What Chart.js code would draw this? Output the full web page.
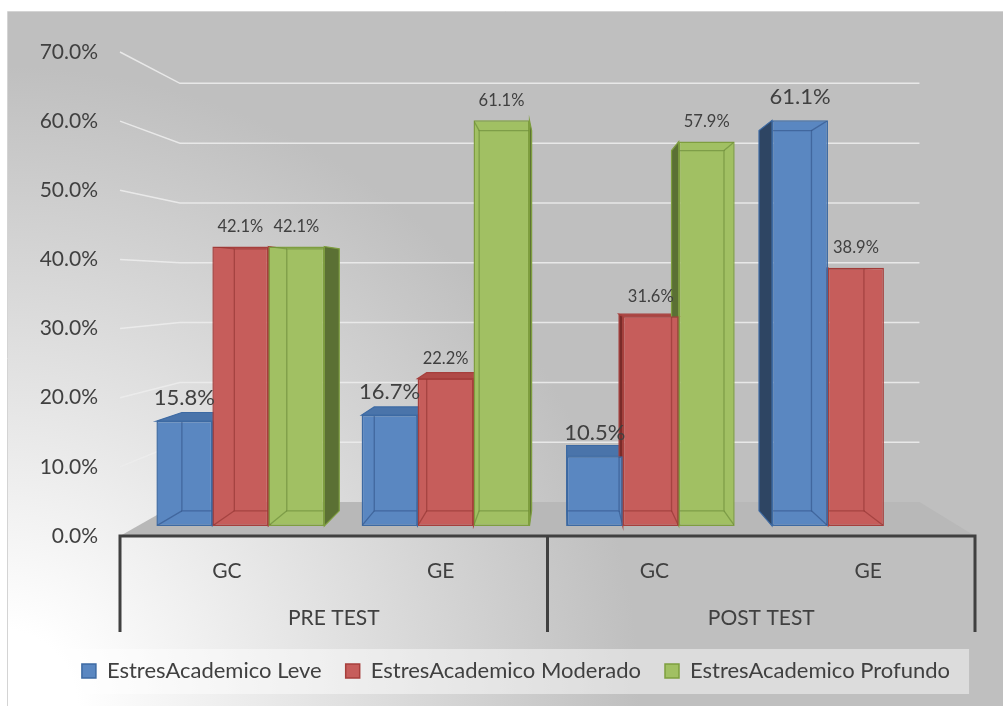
<!DOCTYPE html>
<html><head><meta charset="utf-8">
<script src="https://cdn.jsdelivr.net/npm/chart.js@4.4.1/dist/chart.umd.min.js"></script>
<style>html,body{margin:0;padding:0;background:#fff;}canvas{display:block;}</style>
</head><body>
<canvas id="c" width="1003" height="706"></canvas>
<script>
// ---- data ----
const GROUPS = ['PRE TEST', 'POST TEST'];
const CATEGORIES = ['GC', 'GE', 'GC', 'GE'];
const SERIES_NAMES = ['EstresAcademico Leve', 'EstresAcademico Moderado', 'EstresAcademico Profundo'];
const LEVE = [15.8, 16.7, 10.5, 61.1];
const MODERADO = [42.1, 22.2, 31.6, 38.9];
const PROFUNDO = [42.1, 61.1, 57.9, null];
const Y_TICKS = [0, 10, 20, 30, 40, 50, 60, 70];
const Y_MAX = 70;

// ---- style ----
const FONT = 'Lato, "Open Sans", sans-serif';
const TEXT = '#404040';
const VX = 0.519, VY = 0.48;          // vanishing point (fraction of plot area)
const K_WALL = 0.865, K_FRONT = 0.96, K_BACK = 0.90;
const PAL = [
  {fill:'#5a87c1', border:'#3d6aa3', side:'#2e4563', top:'#4a74aa', edge:'rgba(35,65,115,0.45)', label:22},
  {fill:'#c65d5b', border:'#a63f3c', side:'#7a2b29', top:'#b04a47', edge:'rgba(125,35,33,0.45)', label:16.5},
  {fill:'#a1c063', border:'#7e9e3f', side:'#5b7034', top:'#8dac50', edge:'rgba(85,115,40,0.45)', label:16.5}
];
const N = CATEGORIES.length;
const XB_MIN = -(N * VX * (1 - K_FRONT) / K_FRONT + 0.5);
const XB_MAX = XB_MIN + N / K_FRONT;
const YB_MIN = -(1 - VY) * (1 - K_FRONT) * Y_MAX / K_FRONT;
const YB_MAX = YB_MIN + Y_MAX / K_FRONT;

function geom(chart) {
  const a = chart.chartArea;
  return {a, vx: a.left + VX * (a.right - a.left), vy: a.top + VY * (a.bottom - a.top)};
}
function toward(g, x, y, k) { return [g.vx + k * (x - g.vx), g.vy + k * (y - g.vy)]; }
function poly(ctx, pts) { ctx.beginPath(); pts.forEach((p, i) => i ? ctx.lineTo(p[0], p[1]) : ctx.moveTo(p[0], p[1])); ctx.closePath(); }
function barBox(el) {
  const p = el.getProps(['x', 'y', 'base', 'width'], true);
  return {x1: p.x - p.width / 2, x2: p.x + p.width / 2, yt: p.y, yb: p.base, xc: p.x};
}

const scene = {
  id: 'scene',
  beforeDraw(chart) {
    const ctx = chart.ctx, W = chart.width, H = chart.height;
    ctx.save();
    ctx.fillStyle = '#ffffff'; ctx.fillRect(0, 0, W, H);
    const gr = ctx.createRadialGradient(0, H, 0, 0, H, 640);
    gr.addColorStop(0, '#ffffff'); gr.addColorStop(0.12, '#ffffff'); gr.addColorStop(1, '#bfbfbf');
    ctx.fillStyle = gr; ctx.fillRect(8, 11, W - 8, H - 11);
    ctx.strokeStyle = '#d4d4d4'; ctx.lineWidth = 1;
    ctx.beginPath(); ctx.moveTo(7.5, H); ctx.lineTo(7.5, 11.5); ctx.lineTo(W, 11.5); ctx.stroke();
    // legend background
    const lg = chart.legend;
    if (lg && lg.legendHitBoxes && lg.legendHitBoxes.length) {
      const hb = lg.legendHitBoxes[0];
      const last = lg.legendHitBoxes[lg.legendHitBoxes.length - 1];
      const cy = hb.top + hb.height / 2;
      ctx.fillStyle = 'rgba(255,255,255,0.45)';
      ctx.fillRect(hb.left - 28, cy - 22, last.left + last.width + 19 - (hb.left - 28), 45);
    }
    ctx.restore();
  },
  beforeDatasetsDraw(chart) {
    const ctx = chart.ctx, g = geom(chart), a = g.a, yl = chart.scales.yl;
    ctx.save();
    // back wall grid lines
    ctx.strokeStyle = 'rgba(236,236,236,0.9)'; ctx.lineWidth = 1.5;
    Y_TICKS.forEach(v => {
      if (v <= 0) return;
      const yf = yl.getPixelForValue(v);
      const [bl, by] = toward(g, a.left, yf, K_WALL);
      const [br] = toward(g, a.right, yf, K_WALL);
      ctx.beginPath(); ctx.moveTo(a.left, yf); ctx.lineTo(bl, by); ctx.lineTo(br, by); ctx.stroke();
    });
    // floor
    const [fl, fy] = toward(g, a.left, a.bottom, K_WALL);
    const [fr] = toward(g, a.right, a.bottom, K_WALL);
    poly(ctx, [[a.left, a.bottom], [fl, fy], [fr, fy], [a.right, a.bottom]]);
    ctx.fillStyle = '#b8b8b8'; ctx.fill();
    // side and top faces of bars
    const r = K_BACK / K_FRONT;
    chart.data.datasets.forEach((ds, di) => {
      const meta = chart.getDatasetMeta(di), pal = PAL[di];
      meta.data.forEach((el, i) => {
        if (ds.data[i].y == null) return;
        const b = barBox(el);
        const T1 = toward(g, b.x1, b.yt, r), T2 = toward(g, b.x2, b.yt, r);
        const B1 = toward(g, b.x1, b.yb, r), B2 = toward(g, b.x2, b.yb, r);
        ctx.lineWidth = 1.2; ctx.strokeStyle = pal.border;
        if (b.xc > g.vx) poly(ctx, [[b.x1, b.yt], T1, B1, [b.x1, b.yb]]);
        else poly(ctx, [[b.x2, b.yt], T2, B2, [b.x2, b.yb]]);
        ctx.fillStyle = pal.side; ctx.fill(); ctx.stroke();
        if (b.yt > g.vy) {
          poly(ctx, [[b.x1, b.yt], [b.x2, b.yt], T2, T1]);
          ctx.fillStyle = pal.top; ctx.fill(); ctx.stroke();
        }
      });
    });
    ctx.restore();
  },
  afterDatasetDraw(chart, args) {
    const ctx = chart.ctx, g = geom(chart), di = args.index, pal = PAL[di];
    const ds = chart.data.datasets[di], r = K_BACK / K_FRONT;
    ctx.save();
    args.meta.data.forEach((el, i) => {
      if (ds.data[i].y == null) return;
      const b = barBox(el);
      const T1 = toward(g, b.x1, b.yt, r), T2 = toward(g, b.x2, b.yt, r);
      const B1 = toward(g, b.x1, b.yb, r), B2 = toward(g, b.x2, b.yb, r);
      ctx.save();
      ctx.beginPath(); ctx.rect(b.x1 + 1, b.yt + 1, b.x2 - b.x1 - 2, b.yb - b.yt - 2); ctx.clip();
      ctx.strokeStyle = pal.edge; ctx.lineWidth = 1.3;
      poly(ctx, [T1, T2, B2, B1]); ctx.stroke();
      ctx.beginPath();
      [[[b.x1, b.yt], T1], [[b.x2, b.yt], T2], [[b.x1, b.yb], B1], [[b.x2, b.yb], B2]].forEach(([p, q]) => { ctx.moveTo(p[0], p[1]); ctx.lineTo(q[0], q[1]); });
      ctx.stroke();
      ctx.restore();
    });
    ctx.restore();
  },
  afterDatasetsDraw(chart) {
    const ctx = chart.ctx;
    ctx.save();
    ctx.fillStyle = TEXT; ctx.textAlign = 'center'; ctx.textBaseline = 'middle';
    chart.data.datasets.forEach((ds, di) => {
      const meta = chart.getDatasetMeta(di), pal = PAL[di];
      ctx.font = pal.label + 'px ' + FONT;
      meta.data.forEach((el, i) => {
        const v = ds.data[i].y;
        if (v == null) return;
        const off = pal.label > 20 ? 23 : 20;
        ctx.fillText(v.toFixed(1) + '%', el.x, el.y - off);
      });
    });
    ctx.restore();
  },
  afterDraw(chart) {
    const ctx = chart.ctx, a = chart.chartArea, xg = chart.scales.xg;
    ctx.save();
    ctx.strokeStyle = '#404040'; ctx.lineWidth = 3; ctx.lineCap = 'butt';
    const mid = (xg.getPixelForValue(0) + xg.getPixelForValue(1)) / 2;
    const bottom = xg.bottom - 4;
    ctx.beginPath();
    ctx.moveTo(a.left - 1.5, a.bottom); ctx.lineTo(a.right + 1.5, a.bottom);
    [a.left, mid, a.right].forEach(x => { ctx.moveTo(x, a.bottom); ctx.lineTo(x, bottom); });
    ctx.stroke();
    ctx.restore();
  }
};

const seriesData = [LEVE, MODERADO, PROFUNDO];
const datasets = seriesData.map((vals, di) => ({
  label: SERIES_NAMES[di],
  data: vals.map((v, i) => ({x: i, y: v})),
  backgroundColor: PAL[di].fill,
  borderColor: PAL[di].border,
  borderWidth: 1.5,
  borderSkipped: false,
  xAxisID: 'xb',
  yAxisID: 'y',
  categoryPercentage: 0.818,
  barPercentage: 1
}));

new Chart(document.getElementById('c'), {
  type: 'bar',
  data: {datasets},
  options: {
    responsive: false,
    animation: false,
    devicePixelRatio: 1,
    layout: {padding: {left: 30, right: 1, top: 52, bottom: 14}},
    plugins: {
      tooltip: {enabled: false},
      legend: {
        position: 'bottom',
        labels: {boxWidth: 14, boxHeight: 14, padding: 24, color: TEXT, font: {family: FONT, size: 22}}
      }
    },
    scales: {
      xb: {
        type: 'linear', display: false, min: XB_MIN, max: XB_MAX, offset: false,
        grid: {offset: false},
        afterBuildTicks: s => { s.ticks = CATEGORIES.map((_, i) => ({value: i})); }
      },
      x: {
        type: 'category', labels: CATEGORIES, position: 'bottom', weight: 1, offset: true,
        grid: {display: false, drawTicks: false}, border: {display: false},
        ticks: {padding: 23, color: TEXT, font: {family: FONT, size: 21}, autoSkip: false, maxRotation: 0},
        afterFit: s => { s.height = 66; }
      },
      xg: {
        type: 'category', labels: GROUPS, position: 'bottom', weight: 2, offset: true,
        grid: {display: false, drawTicks: false}, border: {display: false},
        ticks: {padding: 4, color: TEXT, font: {family: FONT, size: 21}, autoSkip: false, maxRotation: 0},
        afterFit: s => { s.height = 34; }
      },
      y: {type: 'linear', display: false, min: YB_MIN, max: YB_MAX},
      yl: {
        type: 'linear', position: 'left', min: 0, max: Y_MAX,
        grid: {display: false, drawTicks: false}, border: {display: false},
        afterBuildTicks: s => { s.ticks = Y_TICKS.map(v => ({value: v})); },
        ticks: {padding: 22, color: TEXT, font: {family: FONT, size: 21}, callback: v => v.toFixed(1) + '%'},
        afterFit: s => { s.width = 90; }
      },
      yr: {
        type: 'linear', position: 'right', min: 0, max: Y_MAX,
        grid: {display: false, drawTicks: false}, border: {display: false},
        ticks: {display: false},
        afterFit: s => { s.width = 27; }
      }
    }
  },
  plugins: [scene]
});
</script>
</body></html>
